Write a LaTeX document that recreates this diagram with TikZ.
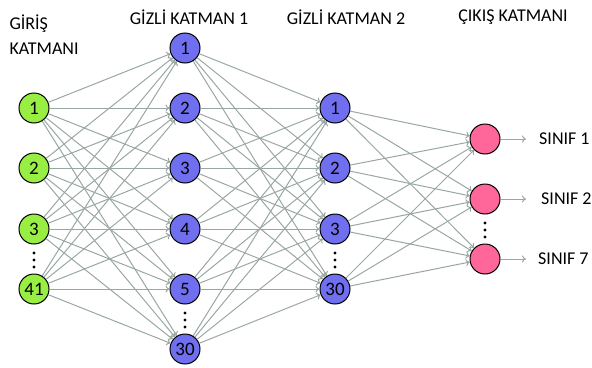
\documentclass[tikz,border=0pt]{standalone}
\usepackage{fontspec}
\setmainfont{Carlito}
\usetikzlibrary{arrows.meta}
\definecolor{ingreen}{HTML}{99EE44}
\definecolor{hidblue}{HTML}{6F6FF0}
\definecolor{outpink}{HTML}{FF6699}
\definecolor{edgegray}{HTML}{99A7A3}
\tikzset{
  neuron/.style={circle,draw=black,line width=1pt,minimum size=30pt,inner sep=0pt,font=\fontsize{19}{19}\selectfont},
  inp/.style={neuron,fill=ingreen},
  hid/.style={neuron,fill=hidblue},
  outn/.style={neuron,fill=outpink},
  conn/.style={draw=edgegray,line width=1pt,-{To[length=4pt,width=7pt]}},
  hdr/.style={font=\fontsize{18}{25}\selectfont,align=left},
  cls/.style={font=\fontsize{18}{20}\selectfont,anchor=west,inner sep=0pt},
  vdot/.style={circle,fill=black,inner sep=0pt,minimum size=3.4pt}
}
\begin{document}
\begin{tikzpicture}[x=1pt,y=-1pt]
\useasboundingbox (0,0) rectangle (592,367);
% input layer
\node[inp] (i1) at (34,108) {1};
\node[inp] (i2) at (34,168) {2};
\node[inp] (i3) at (34,229) {3};
\node[inp] (i4) at (34,289) {41};
% hidden 1
\node[hid] (a1) at (185,48) {1};
\node[hid] (a2) at (185,108) {2};
\node[hid] (a3) at (185,168) {3};
\node[hid] (a4) at (185,229) {4};
\node[hid] (a5) at (185,289) {5};
\node[hid] (a6) at (185,349) {30};
% hidden 2
\node[hid] (b1) at (335,108) {1};
\node[hid] (b2) at (335,168) {2};
\node[hid] (b3) at (335,229) {3};
\node[hid] (b4) at (335,289) {30};
% output
\node[outn] (o1) at (485,139) {};
\node[outn] (o2) at (485,199) {};
\node[outn] (o3) at (485,259) {};
% edges
\foreach \i in {1,...,4}{\foreach \j in {1,...,6}{\draw[conn] (i\i) -- (a\j);}}
\foreach \i in {1,...,6}{\foreach \j in {1,...,4}{\draw[conn] (a\i) -- (b\j);}}
\foreach \i in {1,...,4}{\foreach \j in {1,...,3}{\draw[conn] (b\i) -- (o\j);}}
% labels
\node[cls] (c1) at (539,139) {SINIF 1};
\node[cls] (c2) at (541,199) {SINIF 2};
\node[cls] (c3) at (538,259) {SINIF 7};
\draw[conn,shorten >=13pt] (o1) -- (c1);
\draw[conn,shorten >=15pt] (o2) -- (c2);
\draw[conn,shorten >=12pt] (o3) -- (c3);
% headers
\node[hdr,anchor=west] (h0) at (6,35) {GİRİŞ\\KATMANI};
\node[hdr] (h1) at (189,17) {GİZLİ KATMAN 1};
\node[hdr] (h2) at (346,17) {GİZLİ KATMAN 2};
\node[hdr] (h3) at (513,17) {ÇIKIŞ KATMANI};
% dots
\foreach \n/\x/\y in {d1/34/253, d2/185/313, d3/335/253, d4/485/223}{
  \node[vdot] (\n a) at (\x,\y) {};
  \node[vdot] (\n b) at (\x,\y+7) {};
  \node[vdot] (\n c) at (\x,\y+14) {};
}
\end{tikzpicture}
\end{document}
